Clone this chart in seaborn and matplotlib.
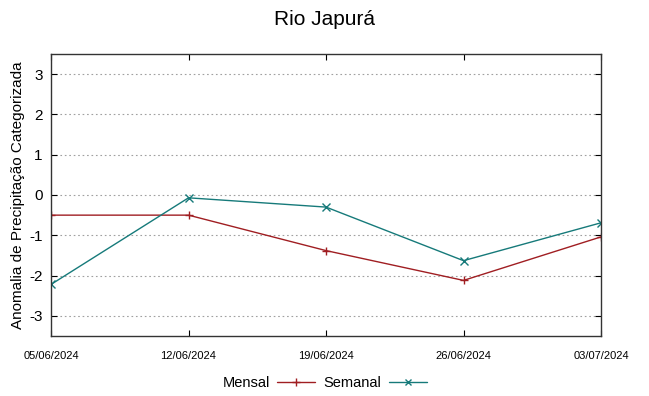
import pandas as pd
import numpy as np
import matplotlib.pyplot as plt
import seaborn as sns
from matplotlib.lines import Line2D

datas = ['05/06/2024', '12/06/2024', '19/06/2024', '26/06/2024', '03/07/2024']
mensal = [-0.5, -0.5, -1.38, -2.12, -1.04]
semanal = [-2.22, -0.07, -0.3, -1.63, -0.69]
yticks = [-3, -2, -1, 0, 1, 2, 3]

sns.set_style('white')
plt.rcParams['font.family'] = ['Liberation Sans', 'DejaVu Sans']
plt.rcParams['text.color'] = 'black'
plt.rcParams['axes.labelcolor'] = 'black'
plt.rcParams['xtick.color'] = 'black'
plt.rcParams['ytick.color'] = 'black'

df = pd.DataFrame({'data': list(range(len(datas))) * 2,
                   'valor': mensal + semanal,
                   'serie': ['Mensal'] * len(datas) + ['Semanal'] * len(datas)})

fig = plt.figure(figsize=(6.49, 3.96), dpi=100)
ax = fig.add_axes([51/649, 1-336/396, 550/649, 282/396])

cores = {'Mensal': '#a01e22', 'Semanal': '#167a7a'}
sns.lineplot(data=df, x='data', y='valor', hue='serie', style='serie',
             markers={'Mensal': '+', 'Semanal': 'x'}, dashes=False,
             palette=cores, linewidth=1, markersize=6, markeredgewidth=1,
             ax=ax, legend=False)
for ln in ax.lines:
    ln.set_markeredgecolor(ln.get_color())

ax.set_xlim(0, len(datas) - 1)
ax.set_ylim(-3.5, 3.5)
ax.set_xticks(range(len(datas)))
ax.set_xticklabels(datas, fontsize=8)
ax.set_yticks(yticks)
ax.set_yticklabels([str(v) for v in yticks], fontsize=11)
ax.yaxis.grid(True, linestyle=(0, (1.5, 2.5)), color='#a0a0a0', linewidth=0.8)
ax.tick_params(direction='in', length=4, top=True, right=True,
               bottom=True, left=True, pad=6)
ax.tick_params(axis='x', pad=11)
for s in ax.spines.values():
    s.set_color('#333333')
    s.set_linewidth(1)
ax.set_xlabel('')
ax.set_ylabel('Anomalia de Precipitação Categorizada', fontsize=11, labelpad=3)

fig.suptitle('Rio Japurá', fontsize=15, y=0.975)

handles = [Line2D([], [], color=cores['Mensal'], marker='+', lw=1, markersize=6),
           Line2D([], [], color=cores['Semanal'], marker='x', lw=1, markersize=5)]
fig.legend(handles, ['Mensal', 'Semanal'], loc='center', bbox_to_anchor=(0.5, 0.032),
           ncol=2, frameon=False, markerfirst=False, fontsize=10.5,
           handlelength=2.6, columnspacing=0.6, handletextpad=0.5)

fig.savefig('out.png', dpi=100)
